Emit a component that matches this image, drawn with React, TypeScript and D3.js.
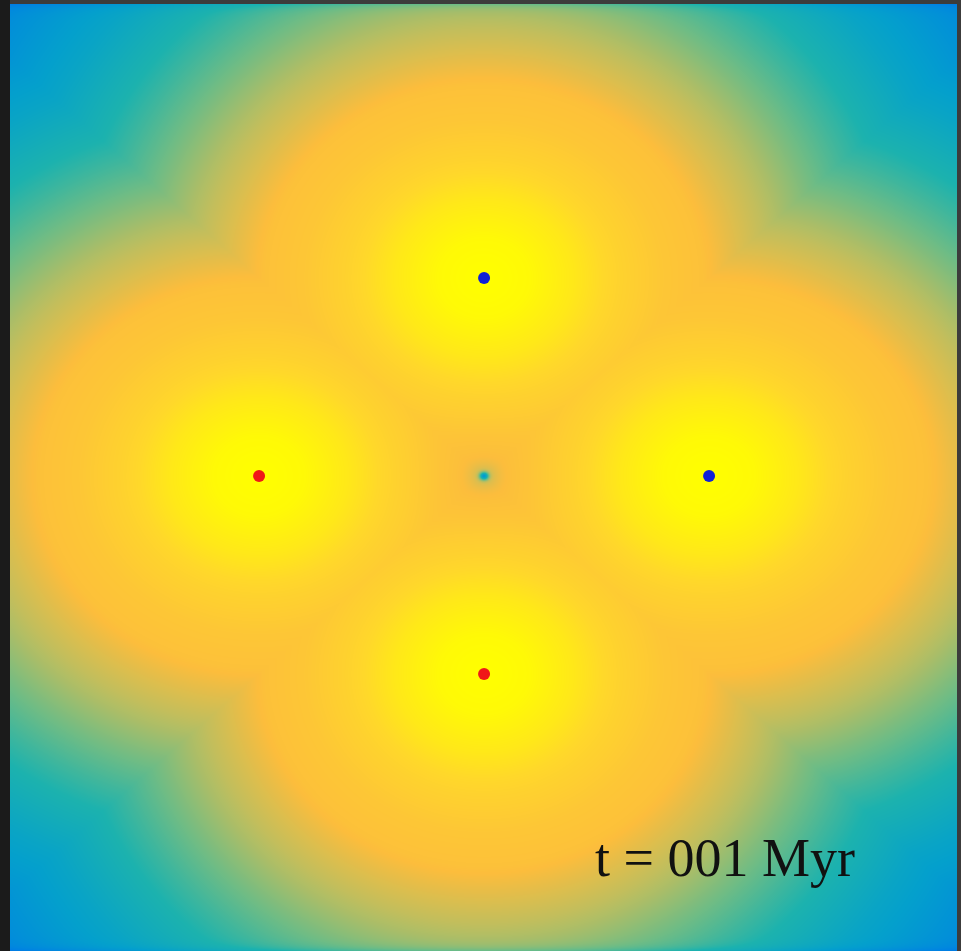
import React, { useRef, useEffect } from "react";
import * as d3 from "d3";

// star particles in code units (centre of the box at 0,0)
const starX = [0, -1, 1, 0];
const starY = [1, 0, 0, -1];
const starKind = ["blue", "red", "blue", "red"];

// radial profile of the field around a single star (distance -> normalised value)
const profileR = [0, 0.2, 0.4, 0.6, 0.8, 0.97, 1.12, 1.35, 1.7, 2.1, 2.6, 3.0];
const profileV = [1, 0.985, 0.94, 0.88, 0.835, 0.815, 0.755, 0.665, 0.505, 0.335, 0.17, 0.08];

// the small hole where the four fields meet
const holeX = [0];
const holeY = [0];

const timeLabel = "t = 001 Myr";

// parula-like colour map
const cmapPos = [0, 0.15, 0.3, 0.45, 0.58, 0.7, 0.8, 0.9, 1];
const cmapCol = ["#0058e8", "#0082e2", "#04a0cc", "#1cb2ae", "#70bc84", "#c2be5c", "#fcbd3c", "#ffd82a", "#ffff00"];

export default function App() {
	const ref = useRef<SVGSVGElement>(null);

	useEffect(() => {
		const x0 = 10, x1 = 957, y0 = 4, y1 = 951;
		const W = x1 - x0, H = y1 - y0;

		const x = d3.scaleLinear().domain([-2.107, 2.102]).range([x0, x1]);
		const y = d3.scaleLinear().domain([2.384, -2.399]).range([y0, y1]);
		const prof = d3.scaleLinear().domain(profileR).range(profileV).clamp(true);
		const cmap = d3
			.scaleLinear<string>()
			.domain(cmapPos)
			.range(cmapCol)
			.interpolate(d3.interpolateRgb)
			.clamp(true);
		const N = 1024;
		const lut = d3.range(N).map((i) => d3.rgb(cmap(i / (N - 1))));

		const cx = d3.range(W).map((i) => x.invert(x0 + i + 0.5));
		const cy = d3.range(H).map((j) => y.invert(y0 + j + 0.5));

		const canvas = document.createElement("canvas");
		canvas.width = W;
		canvas.height = H;
		const ctx = canvas.getContext("2d")!;
		const img = ctx.createImageData(W, H);
		const px = img.data;

		for (let j = 0; j < H; j++) {
			const vy = cy[j];
			const edge = Math.min(j, H - 1 - j);
			const edgeDrop = 0.07 * Math.exp(-edge / 4);
			for (let i = 0; i < W; i++) {
				const vx = cx[i];
				let dmin = 1e9;
				for (let k = 0; k < starX.length; k++) {
					const dx = vx - starX[k], dy = vy - starY[k];
					const d = Math.sqrt(dx * dx + dy * dy);
					if (d < dmin) dmin = d;
				}
				let v = prof(dmin);
				for (let k = 0; k < holeX.length; k++) {
					const dx = vx - holeX[k], dy = vy - holeY[k];
					const r2 = dx * dx + dy * dy;
					v -= 0.45 * Math.exp(-r2 / (0.02 * 0.02)) + 0.07 * Math.exp(-r2 / (0.065 * 0.065)) + 0.02 * Math.exp(-r2 / (0.25 * 0.25));
				}
				v -= edgeDrop;
				const c = lut[Math.max(0, Math.min(N - 1, Math.round(v * (N - 1))))];
				const o = (j * W + i) * 4;
				px[o] = c.r;
				px[o + 1] = c.g;
				px[o + 2] = c.b;
				px[o + 3] = 255;
			}
		}
		ctx.putImageData(img, 0, 0);

		const svg = d3.select(ref.current);
		svg.selectAll("*").remove();

		svg.append("rect").attr("width", 961).attr("height", 951).attr("fill", "#3c3c3c");
		svg.append("rect").attr("width", x0).attr("height", 951).attr("fill", "#1b1b1b");

		svg
			.append("image")
			.attr("x", x0)
			.attr("y", y0)
			.attr("width", W)
			.attr("height", H)
			.attr("preserveAspectRatio", "none")
			.attr("href", canvas.toDataURL());

		svg
			.selectAll("circle.star")
			.data(starX.map((d, i) => ({ x: d, y: starY[i], kind: starKind[i] })))
			.enter()
			.append("circle")
			.attr("class", "star")
			.attr("cx", (d) => x(d.x))
			.attr("cy", (d) => y(d.y))
			.attr("r", 6)
			.attr("fill", (d) => (d.kind === "red" ? "#f01818" : "#1020d8"));

		svg
			.append("text")
			.attr("x", 595)
			.attr("y", 876)
			.attr("font-family", "'Liberation Serif', 'Times New Roman', serif")
			.attr("font-size", 54)
			.attr("fill", "#111")
			.text(timeLabel);
	}, []);

	return (
		<div style={{ position: "absolute", left: 0, top: 0 }}>
			<svg ref={ref} width={961} height={951}></svg>
		</div>
	);
}
